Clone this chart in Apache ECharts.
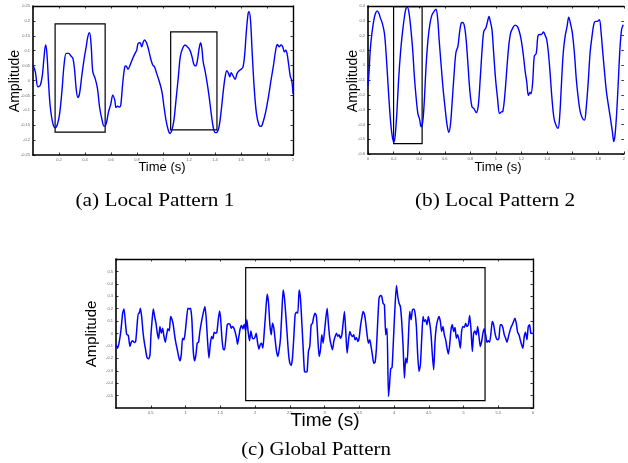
<!DOCTYPE html>
<html>
<head>
<meta charset="utf-8">
<script src="https://cdn.jsdelivr.net/npm/echarts@6/dist/echarts.min.js"></script>
<style>
html,body{margin:0;padding:0;background:#fff;}
#chart{width:628px;height:463px;}
</style>
</head>
<body>
<div id="chart"></div>
<script>
// ---------- Panel (a): Local Pattern 1 ----------
const tA = [0,0.018,0.038,0.056,0.072,0.084,0.097,0.107,0.12,0.133,
0.153,0.171,0.189,0.205,0.223,0.24,0.256,0.274,0.292,0.307,
0.32,0.332,0.345,0.358,0.376,0.394,0.409,0.422,0.435,0.448,
0.46,0.478,0.496,0.512,0.529,0.547,0.563,0.581,0.598,0.614,
0.629,0.639,0.652,0.665,0.675,0.69,0.706,0.716,0.731,0.747,
0.767,0.785,0.798,0.808,0.824,0.836,0.849,0.859,0.875,0.89,
0.905,0.921,0.934,0.951,0.972,0.992,1.008,1.023,1.041,1.054,
1.069,1.084,1.1,1.118,1.133,1.151,1.169,1.187,1.207,1.223,
1.238,1.251,1.263,1.276,1.289,1.299,1.309,1.325,1.34,1.355,
1.371,1.386,1.402,1.417,1.432,1.448,1.463,1.478,1.491,1.504,
1.514,1.524,1.54,1.555,1.57,1.586,1.601,1.616,1.629,1.642,
1.655,1.662,1.673,1.685,1.701,1.719,1.739,1.754,1.77,1.79,
1.811,1.831,1.852,1.867,1.88,1.893,1.908,1.921,1.934,1.944,
1.954,1.967,1.98,1.99,2.0];
const vA = [0.052,0.029,-0.021,-0.016,0.018,0.074,0.119,0.091,-0.01,-0.089,
-0.145,-0.159,-0.145,-0.111,-0.033,0.057,0.091,0.091,0.082,0.074,
0.035,-0.027,-0.057,-0.044,0.018,0.074,0.113,0.147,0.16,0.113,
0.029,0.007,-0.027,-0.089,-0.128,-0.154,-0.145,-0.105,-0.08,-0.049,
-0.066,-0.091,-0.086,-0.089,-0.083,-0.01,0.046,0.049,0.038,0.052,
0.074,0.091,0.102,0.124,0.127,0.113,0.13,0.136,0.124,0.102,
0.074,0.052,0.046,0.024,-0.004,-0.038,-0.089,-0.133,-0.167,-0.178,
-0.165,-0.133,-0.066,0.012,0.08,0.108,0.119,0.113,0.102,0.08,
0.054,0.049,0.063,0.102,0.127,0.108,0.063,0.029,-0.01,-0.055,
-0.111,-0.156,-0.175,-0.173,-0.154,-0.1,-0.038,0.012,0.033,0.024,
0.012,0.026,0.015,0.004,0.024,0.033,0.038,0.046,0.091,0.169,
0.225,0.231,0.203,0.102,-0.021,-0.111,-0.15,-0.154,-0.139,-0.105,
-0.055,0.001,0.057,0.102,0.121,0.113,0.119,0.113,0.096,0.102,
0.091,0.052,0.012,0.001,-0.044];
// boxes: [t0, vTop, t1, vBottom]
const boxesA = [[0.17,0.19,0.555,-0.173],[1.059,0.163,1.415,-0.166]];

// ---------- Panel (b): Local Pattern 2 ----------
const tB = [0,0.008,0.018,0.031,0.046,0.059,0.072,0.085,0.097,0.11,
0.128,0.141,0.154,0.167,0.179,0.192,0.203,0.213,0.226,0.238,
0.254,0.269,0.285,0.297,0.308,0.321,0.333,0.349,0.362,0.377,
0.39,0.403,0.415,0.428,0.441,0.454,0.469,0.485,0.5,0.515,
0.531,0.544,0.556,0.572,0.587,0.603,0.618,0.631,0.644,0.656,
0.672,0.687,0.703,0.715,0.728,0.741,0.754,0.767,0.782,0.797,
0.813,0.828,0.846,0.862,0.877,0.892,0.905,0.921,0.933,0.946,
0.956,0.969,0.982,0.997,1.013,1.028,1.041,1.054,1.069,1.085,
1.1,1.115,1.131,1.149,1.167,1.182,1.197,1.215,1.228,1.241,
1.254,1.267,1.274,1.287,1.3,1.315,1.328,1.341,1.354,1.372,
1.385,1.397,1.41,1.423,1.438,1.454,1.469,1.485,1.497,1.51,
1.526,1.541,1.556,1.569,1.582,1.597,1.613,1.628,1.644,1.659,
1.677,1.692,1.705,1.721,1.736,1.751,1.764,1.777,1.792,1.808,
1.821,1.833,1.849,1.864,1.879,1.895,1.91,1.921,1.931,1.944,
1.956,1.969,1.982,1.995];
const vB = [-0.138,-0.049,0.107,0.218,0.307,0.351,0.367,0.351,0.318,0.289,
0.218,0.084,-0.093,-0.271,-0.404,-0.493,-0.52,-0.471,-0.316,-0.116,
0.084,0.218,0.329,0.384,0.391,0.351,0.262,0.107,-0.071,-0.227,
-0.327,-0.364,-0.416,-0.382,-0.227,-0.004,0.173,0.284,0.34,0.362,
0.378,0.318,0.173,-0.004,-0.16,-0.293,-0.404,-0.453,-0.404,-0.271,
-0.071,0.084,0.129,0.218,0.284,0.289,0.262,0.173,-0.004,-0.182,
-0.282,-0.293,-0.32,-0.271,-0.093,0.107,0.229,0.251,0.289,0.329,
0.296,0.24,0.084,-0.093,-0.227,-0.327,-0.316,-0.311,-0.204,-0.027,
0.129,0.218,0.251,0.271,0.262,0.229,0.173,0.062,-0.038,-0.116,
-0.204,-0.182,-0.193,-0.116,0.062,0.08,0.196,0.207,0.207,0.224,
0.2,0.173,0.084,-0.049,-0.227,-0.36,-0.404,-0.427,-0.36,-0.16,
0.084,0.196,0.262,0.324,0.284,0.218,0.084,-0.093,-0.227,-0.316,
-0.36,-0.371,-0.293,-0.116,0.084,0.196,0.273,0.296,0.296,0.307,
0.229,0.107,-0.049,-0.182,-0.271,-0.36,-0.449,-0.516,-0.471,-0.316,
-0.116,0.107,0.24,0.273];
const boxesB = [[0.2,0.395,0.423,-0.53]];

// ---------- Panel (c): Global Pattern ----------
const tC = [0,0.024,0.048,0.072,0.096,0.115,0.134,0.153,0.177,0.201,
0.22,0.24,0.264,0.283,0.302,0.321,0.335,0.35,0.369,0.388,
0.407,0.426,0.446,0.47,0.489,0.503,0.522,0.537,0.556,0.575,
0.594,0.613,0.632,0.652,0.671,0.69,0.709,0.728,0.747,0.767,
0.786,0.805,0.824,0.843,0.862,0.882,0.901,0.92,0.939,0.958,
0.977,0.997,1.016,1.035,1.054,1.073,1.092,1.112,1.131,1.15,
1.169,1.188,1.207,1.231,1.255,1.279,1.298,1.318,1.337,1.356,
1.375,1.394,1.413,1.432,1.452,1.471,1.49,1.505,1.524,1.543,
1.562,1.581,1.6,1.62,1.639,1.658,1.677,1.696,1.715,1.735,
1.749,1.768,1.787,1.806,1.826,1.845,1.864,1.883,1.902,1.921,
1.941,1.96,1.979,1.998,2.017,2.036,2.056,2.075,2.094,2.113,
2.132,2.151,2.175,2.195,2.214,2.233,2.252,2.271,2.29,2.31,
2.329,2.348,2.367,2.386,2.405,2.424,2.443,2.463,2.482,2.501,
2.52,2.539,2.559,2.578,2.597,2.616,2.635,2.654,2.673,2.693,
2.712,2.731,2.75,2.769,2.788,2.808,2.827,2.846,2.865,2.884,
2.904,2.923,2.942,2.961,2.98,3.0,3.019,3.038,3.057,3.076,
3.095,3.115,3.134,3.153,3.172,3.191,3.21,3.229,3.249,3.268,
3.287,3.306,3.325,3.344,3.364,3.383,3.402,3.421,3.44,3.46,
3.479,3.498,3.517,3.536,3.555,3.575,3.594,3.613,3.632,3.651,
3.67,3.689,3.709,3.728,3.747,3.766,3.785,3.804,3.824,3.843,
3.862,3.881,3.9,3.92,3.934,3.953,3.972,3.991,4.011,4.035,
4.054,4.073,4.092,4.111,4.131,4.15,4.169,4.188,4.207,4.226,
4.245,4.265,4.284,4.303,4.322,4.341,4.36,4.38,4.399,4.418,
4.437,4.456,4.475,4.494,4.514,4.533,4.552,4.571,4.59,4.609,
4.629,4.648,4.667,4.686,4.705,4.724,4.744,4.763,4.782,4.801,
4.82,4.839,4.859,4.878,4.897,4.916,4.935,4.954,4.973,4.993,
5.012,5.031,5.05,5.069,5.089,5.108,5.127,5.146,5.165,5.184,
5.204,5.223,5.242,5.261,5.28,5.299,5.319,5.338,5.357,5.376,
5.395,5.414,5.434,5.453,5.472,5.491,5.51,5.529,5.548,5.568,
5.587,5.606,5.625,5.644,5.663,5.683,5.702,5.721,5.74,5.759,
5.778,5.798,5.817,5.836,5.855,5.874,5.893,5.913,5.932,5.951,
5.97,6.0];
const vC = [-0.09,-0.118,-0.064,0.03,0.164,0.198,0.097,-0.005,-0.016,-0.105,
-0.07,-0.059,-0.072,-0.064,0.056,0.164,0.164,0.204,0.137,0.016,
-0.07,-0.131,-0.193,-0.204,-0.172,-0.011,0.123,0.198,0.137,0.083,
0.003,-0.043,0.056,0.003,0.043,-0.024,-0.07,-0.011,0.038,0.021,
0.137,0.115,0.07,-0.011,-0.078,-0.131,-0.185,-0.22,-0.172,-0.038,
-0.051,0.016,0.123,0.204,0.198,0.204,0.11,-0.145,-0.22,-0.172,
-0.078,-0.07,0.016,0.097,0.164,0.217,0.123,-0.064,-0.198,-0.091,
-0.024,-0.043,0.011,0.003,0.011,0.11,0.182,0.123,-0.038,-0.126,
-0.131,-0.038,0.07,0.078,0.075,0.043,0.056,0.043,0.011,-0.038,
-0.086,-0.024,0.038,0.064,0.038,0.075,0.021,0.11,0.011,-0.059,
0.021,-0.032,-0.043,-0.032,0.003,-0.07,-0.126,-0.091,-0.078,-0.118,
0.003,0.15,0.316,0.244,0.07,-0.011,0.083,0.043,-0.051,-0.145,
-0.185,-0.131,-0.038,0.164,0.351,0.284,0.15,-0.011,-0.158,-0.239,
-0.257,-0.198,-0.024,0.155,0.172,0.164,0.351,0.284,0.097,-0.118,
-0.306,-0.311,-0.306,-0.145,-0.105,0.07,0.083,0.137,0.164,0.137,
-0.038,-0.185,-0.131,-0.011,-0.078,0.016,0.123,0.204,0.07,-0.038,
-0.091,-0.131,-0.064,-0.024,0.003,-0.024,-0.011,-0.038,-0.011,0.083,
0.177,0.016,-0.158,-0.064,0.016,-0.011,-0.024,-0.011,-0.051,-0.032,
-0.064,-0.038,0.056,0.123,0.177,0.155,0.083,-0.011,-0.078,-0.051,
-0.105,-0.172,-0.239,-0.231,-0.118,0.097,0.284,0.306,0.298,0.244,
0.231,-0.011,0.043,-0.507,-0.426,-0.284,-0.273,-0.064,0.177,0.386,
0.298,0.244,0.217,0.097,-0.105,-0.359,-0.198,-0.239,-0.038,0.177,
0.11,0.19,0.198,0.164,0.056,-0.172,-0.306,-0.252,-0.038,0.137,
0.097,0.11,0.07,0.137,0.083,-0.011,-0.172,-0.292,-0.064,0.056,
0.11,0.137,0.097,0.016,0.056,-0.011,-0.051,-0.118,-0.166,-0.091,
0.03,0.07,0.016,0.048,-0.038,-0.011,-0.051,-0.118,0.016,0.056,
0.048,0.083,0.056,0.07,0.145,0.03,-0.145,0.003,0.021,-0.011,
0.056,-0.024,-0.105,-0.064,0.003,0.038,-0.011,-0.07,-0.059,-0.07,
0.003,0.097,0.07,0.003,-0.038,-0.051,-0.038,0.07,0.07,0.043,
-0.011,-0.038,-0.07,-0.032,0.011,0.048,0.07,0.097,0.123,0.083,
0.011,-0.011,-0.051,-0.091,-0.118,-0.024,0.011,-0.051,0.056,0.07,
0.003,0];
const boxesC = [[1.866,0.53,5.31,-0.54]];

// axis ranges / titles
const xRange = [[0,2,0.2],[0,2,0.2],[0,6,0.5]];
const yRange = [[-0.25,0.25,0.05],[-0.6,0.4,0.1],[-0.6,0.6,0.1]];
const xTitle = 'Time (s)';
const yTitle = 'Amplitude';
const captions = ['(a) Local Pattern 1','(b) Local Pattern 2','(c) Global Pattern'];

const chart = echarts.init(document.getElementById('chart'), null, {renderer:'canvas'});

const tickLabel = {fontSize:4, color:'#666', fontFamily:'Liberation Sans', margin:3};
function fmt(v){ return String(+v.toFixed(2)); }

const grids = [
  {left:33, top:6, width:260, height:149},
  {left:368, top:6, width:260, height:148},
  {left:116, top:259, width:417, height:149}
];

const xAxes = [], yAxes = [];
[0,1,2].forEach(i=>{
  xAxes.push({
    type:'value', gridIndex:i, min:xRange[i][0], max:xRange[i][1], interval:xRange[i][2],
    position:'bottom',
    axisLine:{show:true, onZero:false, lineStyle:{color:'#000', width:1.6}},
    axisTick:{show:true, inside:true, length:2.5, lineStyle:{color:'#000', width:0.8}},
    axisLabel:Object.assign({}, tickLabel, {showMinLabel: i===1, formatter:fmt}),
    splitLine:{show:false}
  });
});
[0,1,2].forEach(i=>{
  xAxes.push({
    type:'value', gridIndex:i, min:xRange[i][0], max:xRange[i][1], interval:xRange[i][2],
    position:'top',
    axisLine:{show:true, onZero:false, lineStyle:{color:'#000', width:1.4}},
    axisTick:{show:true, inside:true, length:2.5, lineStyle:{color:'#000', width:0.8}},
    axisLabel:{show:false}, splitLine:{show:false}
  });
});
[0,1,2].forEach(i=>{
  yAxes.push({
    type:'value', gridIndex:i, min:yRange[i][0], max:yRange[i][1], interval:yRange[i][2],
    position:'left',
    axisLine:{show:true, onZero:false, lineStyle:{color:'#000', width:1.6}},
    axisTick:{show:true, inside:true, length:2.5, lineStyle:{color:'#000', width:0.8}},
    axisLabel:Object.assign({}, tickLabel, {showMinLabel: i!==2, showMaxLabel: i!==2, formatter:fmt}),
    splitLine:{show:false}
  });
});
[0,1,2].forEach(i=>{
  yAxes.push({
    type:'value', gridIndex:i, min:yRange[i][0], max:yRange[i][1], interval:yRange[i][2],
    position:'right',
    axisLine:{show: i!==1, onZero:false, lineStyle:{color:'#000', width:1.4}},
    axisTick:{show:true, inside:true, length:2.5, lineStyle:{color:'#000', width:0.8}},
    axisLabel:{show:false}, splitLine:{show:false}
  });
});

function boxArea(boxes){
  return {
    silent:true,
    itemStyle:{color:'rgba(0,0,0,0)', borderColor:'#000', borderWidth:1.2},
    label:{show:false},
    data: boxes.map(b=>[{coord:[b[0],b[1]]},{coord:[b[2],b[3]]}])
  };
}

const series = [
  {type:'line', xAxisIndex:0, yAxisIndex:0, showSymbol:false, smooth:0.35,
   lineStyle:{color:'#0000ff', width:1.4}, data:tA.map((t,i)=>[t,vA[i]]), markArea:boxArea(boxesA), z:3},
  {type:'line', xAxisIndex:1, yAxisIndex:1, showSymbol:false, smooth:0.35,
   lineStyle:{color:'#0000ff', width:1.4}, data:tB.map((t,i)=>[t,vB[i]]), markArea:boxArea(boxesB), z:3},
  {type:'line', xAxisIndex:2, yAxisIndex:2, showSymbol:false, smooth:0.2,
   lineStyle:{color:'#0000ff', width:1.5}, data:tC.map((t,i)=>[t,vC[i]]), markArea:boxArea(boxesC), z:3}
];

function txt(text, x, y, size, family, rot, sx){
  return {type:'text', x:x, y:y, rotation:rot||0, scaleX:sx||1, z:10,
    style:{text:text, fill:'#000', font: size+'px "'+family+'"',
      textAlign:'center', textVerticalAlign:'middle', align:'center', verticalAlign:'middle'}};
}

const graphics = [
  txt(yTitle, 15, 81, 14, 'Liberation Sans', Math.PI/2),
  txt(xTitle, 162, 167, 13, 'Liberation Sans'),
  txt(captions[0], 155, 201, 19, 'Liberation Serif', 0, 1.12),
  txt(yTitle, 353, 81, 14, 'Liberation Sans', Math.PI/2),
  txt(xTitle, 498, 167, 13, 'Liberation Sans'),
  txt(captions[1], 495, 201, 19, 'Liberation Serif', 0, 1.12),
  txt(yTitle, 92, 334, 15, 'Liberation Sans', Math.PI/2),
  txt(xTitle, 325, 421, 19, 'Liberation Sans'),
  txt(captions[2], 316, 450, 19, 'Liberation Serif', 0, 1.1)
];

chart.setOption({
  animation:false,
  backgroundColor:'#fff',
  grid:grids,
  xAxis:xAxes,
  yAxis:yAxes,
  series:series,
  graphic:graphics
});
</script>
</body>
</html>
